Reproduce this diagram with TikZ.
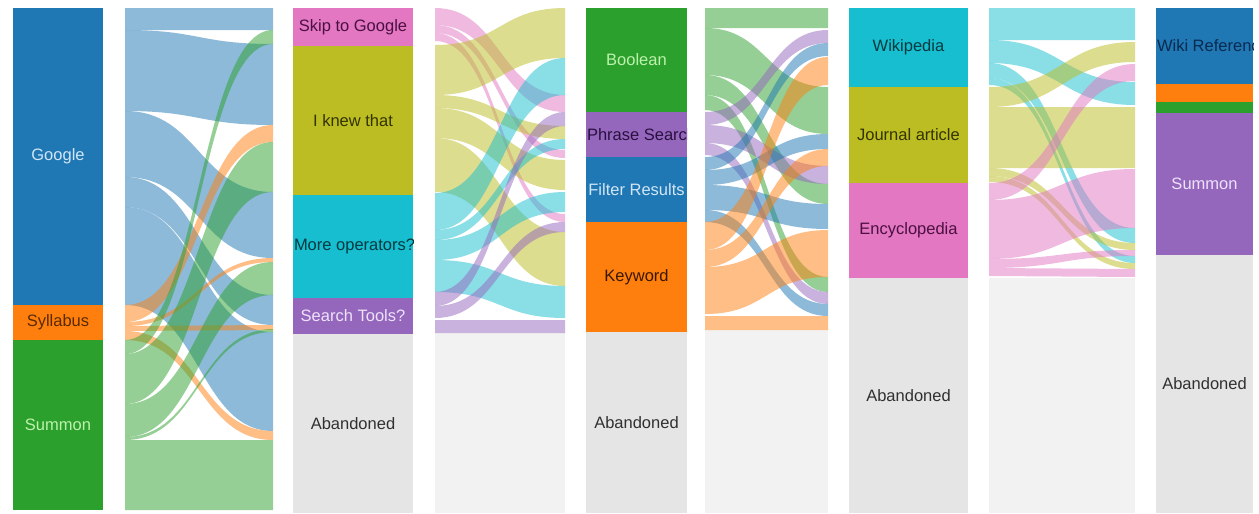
\documentclass[tikz,border=0pt]{standalone}
\usepackage{fontspec}
\setmainfont{Liberation Sans}
\definecolor{cB}{HTML}{1F77B4}
\definecolor{cO}{HTML}{FF7F0E}
\definecolor{cG}{HTML}{2CA02C}
\definecolor{cP}{HTML}{9467BD}
\definecolor{cK}{HTML}{E377C2}
\definecolor{cY}{HTML}{BCBD22}
\definecolor{cC}{HTML}{17BECF}
\definecolor{cA}{HTML}{E5E5E5}
\definecolor{cF}{HTML}{F2F2F2}
\definecolor{tLB}{HTML}{D2E6F6}
\definecolor{tBrown}{HTML}{5A2A00}
\definecolor{tLG}{HTML}{BDF2AE}
\definecolor{tDPink}{HTML}{4A1040}
\definecolor{tDOlive}{HTML}{333300}
\definecolor{tDTeal}{HTML}{053A40}
\definecolor{tLP}{HTML}{EEE2FA}
\definecolor{tGray}{HTML}{303030}
\definecolor{tDPurple}{HTML}{2A1040}
\definecolor{tDOrange}{HTML}{3A1800}
\definecolor{tDBlue}{HTML}{0A2A50}
\newcommand\sankeyflow[7]{%
  \fill[#7, fill opacity=0.5] (#1,#3) .. controls ({(#1+#2)/2},#3) and ({(#1+#2)/2},#5) .. (#2,#5)
    -- (#2,#6) .. controls ({(#1+#2)/2},#6) and ({(#1+#2)/2},#4) .. (#1,#4) -- cycle;}
\tikzset{
  bar/.style={rectangle, inner sep=0pt, outer sep=0pt, anchor=north west,
    font=\fontsize{16.5}{18}\selectfont},
  clipL/.style 2 args={path picture={\node[anchor=west, inner sep=0pt, text=#2,
    font=\fontsize{16.5}{18}\selectfont] at ([xshift=1pt]path picture bounding box.west) {#1};}},
  bandbg/.style={fill=cF},
  aband/.style={bar, fill=cA, text=tGray}
}
\begin{document}
\begin{tikzpicture}[x=1pt, y=-1pt]
\useasboundingbox (0,0) rectangle (1259,514);
\fill[white] (0,0) rectangle (1259,514);
% gray band backgrounds
\fill[bandbg] (435,333) rectangle (565,513);
\fill[bandbg] (705,330) rectangle (828,513);
\fill[bandbg] (989,278) rectangle (1135,513);
% band 1
\foreach \a/\b/\c/\d in {8/30/8/30, 30/111/44/125, 111/177/192/258, 177/207/295/325, 207/305/332/431}
  {\sankeyflow{125}{273}{\a}{\b}{\c}{\d}{cB}}
\foreach \a/\b/\c/\d in {305/322/125/142, 322/326/258/262, 326/331/325/330, 331/340/431/440}
  {\sankeyflow{125}{273}{\a}{\b}{\c}{\d}{cO}}
\foreach \a/\b/\c/\d in {340/354/30/44, 354/404/142/192, 404/437/262/295, 437/440/329/332, 440/510/440/510}
  {\sankeyflow{125}{273}{\a}{\b}{\c}{\d}{cG}}
% band 2
\foreach \a/\b/\c/\d in {8/25/95/112, 25/33/150/158, 33/41/214/222}
  {\sankeyflow{435}{565}{\a}{\b}{\c}{\d}{cK}}
\foreach \a/\b/\c/\d in {45/95/8/58, 95/108/126/139, 108/138/160/190, 138/192/232/286}
  {\sankeyflow{435}{565}{\a}{\b}{\c}{\d}{cY}}
\foreach \a/\b/\c/\d in {193/230/58/95, 230/240/139/149, 240/260/192/212, 260/292/286/318}
  {\sankeyflow{435}{565}{\a}{\b}{\c}{\d}{cC}}
\foreach \a/\b/\c/\d in {292/306/112/126, 306/318/222/232, 320/333/320/333}
  {\sankeyflow{435}{565}{\a}{\b}{\c}{\d}{cP}}
% band 3
\foreach \a/\b/\c/\d in {8/28/8/28, 28/75/87/134, 75/95/184/204, 95/110/277/292}
  {\sankeyflow{705}{828}{\a}{\b}{\c}{\d}{cG}}
\foreach \a/\b/\c/\d in {112/125/30/43, 125/143/166/184, 143/155/292/304}
  {\sankeyflow{705}{828}{\a}{\b}{\c}{\d}{cP}}
\foreach \a/\b/\c/\d in {157/170/43/56, 170/185/134/149, 185/210/204/229, 210/222/304/316}
  {\sankeyflow{705}{828}{\a}{\b}{\c}{\d}{cB}}
\foreach \a/\b/\c/\d in {222/250/57/85, 250/267/149/166, 267/314/230/277, 316/330/316/330}
  {\sankeyflow{705}{828}{\a}{\b}{\c}{\d}{cO}}
% band 4
\foreach \a/\b/\c/\d in {8/40/8/40, 40/63/82/105, 63/78/228/243, 78/85/256/263}
  {\sankeyflow{989}{1135}{\a}{\b}{\c}{\d}{cC}}
\foreach \a/\b/\c/\d in {87/107/42/62, 107/168/107/168, 168/176/243/250, 176/182/263/269}
  {\sankeyflow{989}{1135}{\a}{\b}{\c}{\d}{cY}}
\foreach \a/\b/\c/\d in {183/200/64/81, 200/259/169/228, 259/268/250/256, 268/276/269/277}
  {\sankeyflow{989}{1135}{\a}{\b}{\c}{\d}{cK}}
% column 1
\node[bar, fill=cB, text=tLB, minimum width=90pt, minimum height=297pt] (google) at (13,8) {Google};
\node[bar, fill=cO, text=tBrown, minimum width=90pt, minimum height=35pt] (syllabus) at (13,305) {Syllabus};
\node[bar, fill=cG, text=tLG, minimum width=90pt, minimum height=170pt] (summonA) at (13,340) {Summon};
% column 2
\node[bar, fill=cK, text=tDPink, minimum width=120pt, minimum height=38pt] (skip) at (293,8) {Skip to Google};
\node[bar, fill=cY, text=tDOlive, minimum width=120pt, minimum height=149pt] (knew) at (293,46) {I knew that};
\node[bar, fill=cC, minimum width=120pt, minimum height=103pt, clipL={More operators?}{tDTeal}] (more) at (293,195) {};
\node[bar, fill=cP, text=tLP, minimum width=120pt, minimum height=36pt] (tools) at (293,298) {Search Tools?};
\node[aband, minimum width=120pt, minimum height=179pt] (abandB) at (293,334) {Abandoned};
% column 3
\node[bar, fill=cG, text=tLG, minimum width=101pt, minimum height=104pt] (boolean) at (586,8) {Boolean};
\node[bar, fill=cP, minimum width=101pt, minimum height=45pt, clipL={Phrase Search}{tDPurple}] (phrase) at (586,112) {};
\node[bar, fill=cB, text=tLB, minimum width=101pt, minimum height=65pt] (filter) at (586,157) {Filter Results};
\node[bar, fill=cO, text=tDOrange, minimum width=101pt, minimum height=110pt] (keyword) at (586,222) {Keyword};
\node[aband, minimum width=101pt, minimum height=181pt] (abandC) at (586,332) {Abandoned};
% column 4
\node[bar, fill=cC, text=tDTeal, minimum width=119pt, minimum height=79pt] (wikipedia) at (849,8) {Wikipedia};
\node[bar, fill=cY, text=tDOlive, minimum width=119pt, minimum height=96pt] (journal) at (849,87) {Journal article};
\node[bar, fill=cK, text=tDPink, minimum width=119pt, minimum height=95pt] (ency) at (849,183) {Encyclopedia};
\node[aband, minimum width=119pt, minimum height=235pt] (abandD) at (849,278) {Abandoned};
% column 5
\node[bar, fill=cB, minimum width=97pt, minimum height=76pt, clipL={Wiki Reference}{tDBlue}] (wikiref) at (1156,8) {};
\node[bar, fill=cO, minimum width=97pt, minimum height=18pt] (orangeE) at (1156,84) {};
\node[bar, fill=cG, minimum width=97pt, minimum height=11pt] (greenE) at (1156,102) {};
\node[bar, fill=cP, text=tLP, minimum width=97pt, minimum height=142pt] (summonE) at (1156,113) {Summon};
\node[aband, minimum width=97pt, minimum height=258pt] (abandE) at (1156,255) {Abandoned};
\end{tikzpicture}
\end{document}
